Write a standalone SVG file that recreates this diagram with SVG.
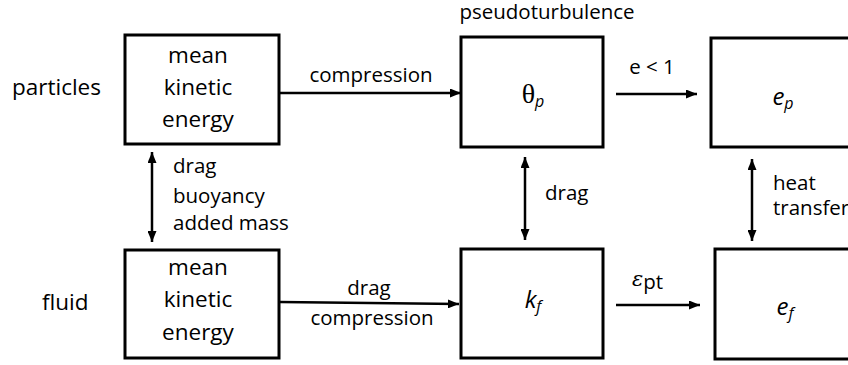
<svg xmlns="http://www.w3.org/2000/svg" width="848" height="365" viewBox="0 0 848 365">
<style>
.box{fill:#fff;stroke:#000;stroke-width:3}
.t{font-family:"Open Sans","Liberation Sans",sans-serif;font-size:22.5px;fill:#000}
.l{font-family:"Open Sans","Liberation Sans",sans-serif;font-size:20.5px;fill:#000}
.m{text-anchor:middle}
.c{stroke:#000;stroke-width:2.5;fill:none}
.it{font-family:"Open Sans","Liberation Sans",sans-serif;font-style:italic;fill:#000}
</style>
<defs>
<marker id="ah" markerWidth="11" markerHeight="9" refX="11" refY="4.5" orient="auto-start-reverse" markerUnits="userSpaceOnUse">
<path d="M0,0 L11,4.5 L0,9 Z" fill="#000"/>
</marker>
</defs>
<rect width="848" height="365" fill="#fff"/>
<text class="t" x="12" y="95">particles</text>
<text class="t" x="42" y="310">fluid</text>
<text class="l m" x="547" y="19">pseudoturbulence</text>
<g id="pmke">
<rect class="box" x="125" y="35" width="154" height="109"/>
<text class="t m" x="198" y="63">mean</text>
<text class="t m" x="198" y="95">kinetic</text>
<text class="t m" x="198" y="127">energy</text>
</g>
<g id="fmke">
<rect class="box" x="125" y="250" width="154" height="108"/>
<text class="t m" x="198" y="275">mean</text>
<text class="t m" x="198" y="307">kinetic</text>
<text class="t m" x="198" y="340">energy</text>
</g>
<g id="theta">
<rect class="box" x="461" y="37" width="142" height="110"/>
<text x="533" y="103" text-anchor="middle"><tspan font-family="Liberation Serif,serif" font-size="28">θ</tspan><tspan class="it" font-size="16" dy="4">p</tspan></text>
</g>
<g id="kf">
<rect class="box" x="461" y="249" width="142" height="109"/>
<text x="533" y="308" text-anchor="middle"><tspan class="it" font-size="24">k</tspan><tspan class="it" font-size="16" dy="4">f</tspan></text>
</g>
<g id="ep">
<rect class="box" x="711" y="38" width="150" height="109"/>
<text x="783" y="105" text-anchor="middle"><tspan class="it" font-size="24">e</tspan><tspan class="it" font-size="16" dy="4">p</tspan></text>
</g>
<g id="ef">
<rect class="box" x="715" y="249" width="150" height="110"/>
<text x="785" y="315" text-anchor="middle"><tspan class="it" font-size="24">e</tspan><tspan class="it" font-size="16" dy="4">f</tspan></text>
</g>
<g id="connectors">
<line class="c" x1="279" y1="93" x2="461" y2="93" marker-end="url(#ah)"/>
<text class="l m" x="371" y="82">compression</text>
<line class="c" x1="616" y1="94" x2="697" y2="94" marker-end="url(#ah)"/>
<text class="l m" x="652" y="74">e &lt; 1</text>
<line class="c" x1="280" y1="302" x2="459" y2="304" marker-end="url(#ah)"/>
<text class="l m" x="369" y="295">drag</text>
<text class="l m" x="372" y="325">compression</text>
<line class="c" x1="616" y1="305" x2="700" y2="305" marker-end="url(#ah)"/>
<text x="632" y="286"><tspan font-family="DejaVu Serif,serif" font-style="italic" font-size="21">ε</tspan><tspan class="l" font-size="14" dy="3">pt</tspan></text>
<line class="c" x1="152" y1="152" x2="152" y2="242" marker-start="url(#ah)" marker-end="url(#ah)"/>
<text class="l" x="173" y="173">drag</text>
<text class="l" x="173" y="203">buoyancy</text>
<text class="l" x="173" y="230">added mass</text>
<line class="c" x1="525" y1="157" x2="525" y2="240" marker-start="url(#ah)" marker-end="url(#ah)"/>
<text class="l" x="545" y="200">drag</text>
<line class="c" x1="752" y1="159" x2="752" y2="241" marker-start="url(#ah)" marker-end="url(#ah)"/>
<text class="l" x="773" y="190">heat</text>
<text class="l" x="773" y="215">transfer</text>
</g>
</svg>
